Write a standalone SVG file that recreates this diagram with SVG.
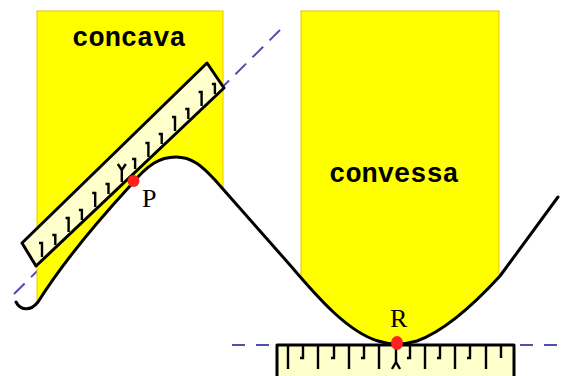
<svg xmlns="http://www.w3.org/2000/svg" width="565" height="376" viewBox="0 0 565 376">
<style>
.col{fill:#ffff00;stroke:#f2c200;stroke-width:1}
.curve{fill:none;stroke:#000;stroke-width:3;stroke-linejoin:round;stroke-linecap:round}
.ruler{fill:#ffffcc;stroke:#000;stroke-width:3;stroke-linejoin:round}
.tick{stroke:#000;stroke-width:2.4;fill:none;stroke-linecap:butt}
.tan{stroke:#4f4fae;stroke-width:2;fill:none}
.dot{fill:#ff2020}
.word{font-family:"Liberation Mono","DejaVu Sans Mono",monospace;font-weight:bold;font-size:27px;fill:#000;text-anchor:middle}
.lbl{font-family:"Liberation Serif","DejaVu Serif",serif;font-size:26px;fill:#000}
</style>
<defs>
<clipPath id="above">
<path d="M16 302 C20 310 30 312 38 302 C55 275 85 235 130 186 C148 164 160 157 176 157 C192 157 202 166 215 180 L290 265 C318 298 348 332 378 341 Q387 344 397 344 Q407 344 417 341 C447 330 478 300 500 276 L558 197 L565 197 L565 0 L0 0 L0 302 Z"/>
</clipPath>
</defs>
<g id="connectors">
<line class="tan" x1="14" y1="294" x2="280" y2="30" stroke-dasharray="15 9"/>
<line class="tan" x1="232" y1="345" x2="565" y2="345" stroke-dasharray="13 11"/>
</g>
<g id="regions" clip-path="url(#above)">
<rect class="col" x="37" y="11" width="186" height="370"/>
<rect class="col" x="301" y="11" width="198" height="370"/>
</g>
<g id="curve">
<path class="curve" d="M16 302 C20 310 30 312 38 302 C55 275 85 235 130 186 C148 164 160 157 176 157 C192 157 202 166 215 180 L290 265 C318 298 348 332 378 341 Q387 344 397 344 Q407 344 417 341 C447 330 478 300 500 276 L558 197"/>
</g>
<g id="ruler-left">
<polygon class="ruler" points="22,243 207,63 224,88 36,266"/>
<path class="tick" d="M42 257 v-14 h-3 M55.3 245 v-10 h-3 M68.6 232 v-14 h-3 M81.9 220 v-10 h-3 M95.2 207 v-14 h-3 M108.5 194 v-10 h-3 M121.8 182 v-12 M121.8 170 l-4 -6 M121.8 170 l4 -6 M135.1 169 v-10 h-3 M148.4 157 v-14 h-3 M161.7 144 v-10 h-3 M175 131 v-14 h-3 M188.3 119 v-10 h-3 M201.6 106 v-14 h-3 M214.9 94 v-10 h-3"/>
</g>
<g id="ruler-bottom">
<rect class="ruler" x="277" y="345" width="237" height="40"/>
<path class="tick" d="M288 345 v24 M303 345 v13 h-3 M318 345 v24 M334 345 v13 h-3 M349 345 v24 M364 345 v13 h-3 M379 345 v24 M410 345 v13 h-3 M425 345 v24 M440 345 v13 h-3 M455 345 v24 M470 345 v13 h-3 M486 345 v24 M501 345 v13"/>
<path class="tick" d="M396 345 v17 M396 362 l-4 7 M396 362 l4 7"/>
</g>
<g id="point-P">
<circle class="dot" cx="133.5" cy="181" r="6"/>
<text class="lbl" x="142" y="207">P</text>
</g>
<g id="point-R">
<ellipse class="dot" cx="397" cy="343" rx="6" ry="7"/>
<text class="lbl" x="390" y="327">R</text>
</g>
<g id="labels">
<text class="word" x="129" y="46">concava</text>
<text class="word" x="394" y="182">convessa</text>
</g>
</svg>
